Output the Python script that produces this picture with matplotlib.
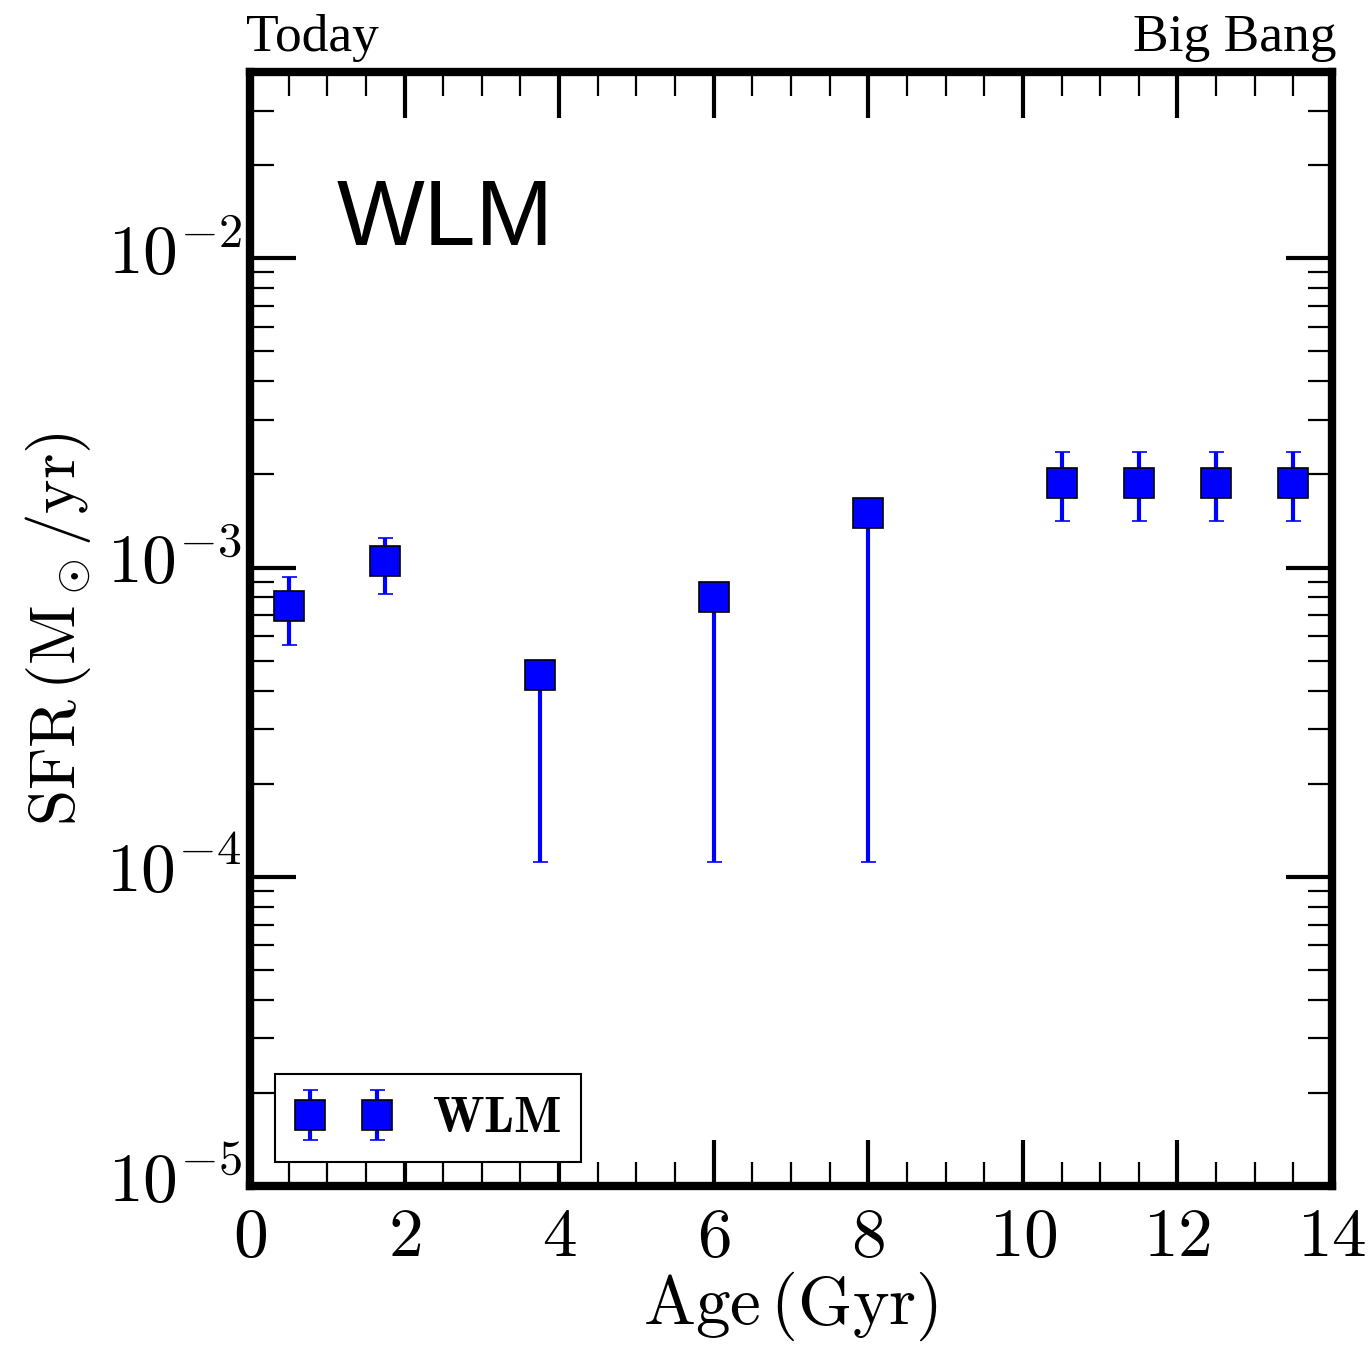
import numpy as np
import matplotlib
matplotlib.use("Agg")
import matplotlib.pyplot as plt
from matplotlib.ticker import MultipleLocator, FuncFormatter, LogLocator
from matplotlib.transforms import ScaledTranslation

plt.rcParams["mathtext.fontset"] = "cm"

# WLM star formation rate vs lookback age
age = [0.5, 1.75, 3.75, 6.0, 8.0, 10.5, 11.5, 12.5, 13.5]
sfr = [7.5e-4, 1.05e-3, 4.5e-4, 8.0e-4, 1.5e-3, 1.88e-3, 1.88e-3, 1.88e-3, 1.88e-3]
sfr_lo = [5.6e-4, 8.2e-4, 1.12e-4, 1.12e-4, 1.12e-4, 1.41e-3, 1.41e-3, 1.41e-3, 1.41e-3]
sfr_hi = [9.3e-4, 1.25e-3, 4.5e-4, 8.0e-4, 1.5e-3, 2.37e-3, 2.37e-3, 2.37e-3, 2.37e-3]

sfr = np.array(sfr)
yerr = [sfr - np.array(sfr_lo), np.array(sfr_hi) - sfr]

fig = plt.figure(figsize=(13.71, 13.47), dpi=100)
ax = fig.add_axes([0.1823, 0.1195, 0.7893, 0.827])

ax.errorbar(age, sfr, yerr=yerr, fmt="s", color="blue", ecolor="blue",
            markersize=22, markeredgecolor="black", markeredgewidth=1.2,
            elinewidth=3, capsize=5.4, capthick=1.5, label="$\\mathbf{WLM}$")

ax.set_yscale("log")
ax.set_xlim(0, 14)
ax.set_ylim(1e-5, 4e-2)

ax.xaxis.set_major_locator(MultipleLocator(2))
ax.xaxis.set_minor_locator(MultipleLocator(0.5))
ax.xaxis.set_major_formatter(FuncFormatter(lambda v, p: "$%d$" % v))
ax.yaxis.set_major_locator(LogLocator(base=10, numticks=10))
ax.yaxis.set_minor_locator(LogLocator(base=10, subs=np.arange(2, 10), numticks=10))
ax.yaxis.set_major_formatter(FuncFormatter(lambda v, p: "$10^{%d}$" % round(np.log10(v))))

ax.tick_params(which="both", direction="in", top=True, right=True)
ax.tick_params(which="major", length=33, width=3, labelsize=50)
ax.tick_params(axis="x", which="major", pad=12)
ax.tick_params(axis="y", which="major", pad=6)
ax.tick_params(which="minor", length=17, width=1.6)
for s in ax.spines.values():
    s.set_linewidth(6)

ax.set_xlabel(r"$\rm Age\,(Gyr)$", fontsize=50, labelpad=0)
ax.set_ylabel(r"$\rm SFR\,(M_\odot/yr)$", fontsize=47, labelpad=10)

ax.text(0.08, 0.845, "WLM", transform=ax.transAxes, fontsize=67,
        family="Liberation Sans")
ax.text(-0.004, 1.009, "Today", transform=ax.transAxes, fontsize=38.5,
        family="Liberation Serif", ha="left", va="bottom")
ax.text(1.004, 1.009, "Big Bang", transform=ax.transAxes, fontsize=38.5,
        family="Liberation Serif", ha="right", va="bottom")

leg = ax.legend(loc="lower left", numpoints=2, fontsize=36, fancybox=False,
                framealpha=1, edgecolor="black", borderaxespad=0,
                borderpad=0.4, handlelength=1.94, handletextpad=0.8,
                bbox_to_anchor=(0.023, 0.0215))
leg.get_frame().set_linewidth(1.5)

# nudge y tick labels up so the "10" sits on the tick
fig.canvas.draw()
for lab in ax.get_yticklabels():
    lab.set_transform(lab.get_transform() + ScaledTranslation(0, 8 / 72, fig.dpi_scale_trans))

fig.savefig("out.png", dpi=100)
